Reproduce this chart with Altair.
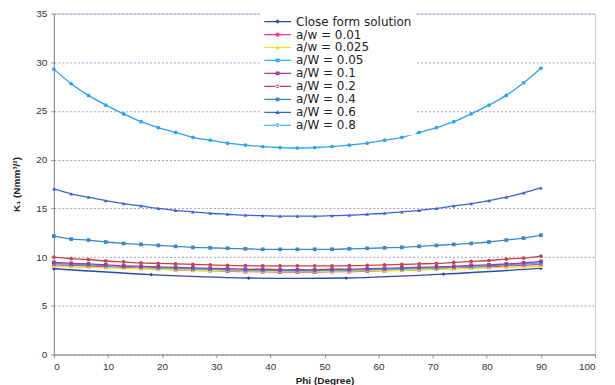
import altair as alt
import pandas as pd

series_names = ["Close form solution", "a/w = 0.01", "a/w = 0.025", "a/W = 0.05",
                "a/W = 0.1", "a/W = 0.2", "a/W = 0.4", "a/W = 0.6", "a/W = 0.8"]
colors = ["#2b4aa6", "#f2379c", "#ece21a", "#27b4e6", "#9c3f9c",
          "#c2454a", "#3d87c6", "#3562d6", "#2aa2f2"]
markers = ["diamond", "square", "triangle-up", "square", "square",
           "circle", "square", "triangle-up", "circle"]

phi_close = [0, 18, 36, 54, 72, 90]
k_close = [8.8, 8.2, 7.85, 7.85, 8.25, 8.85]

phi = [0, 3.2, 6.4, 9.6, 12.9, 16.1, 19.3, 22.5, 25.7, 28.9, 32.1, 35.4, 38.6, 41.8, 45,
       48.2, 51.4, 54.6, 57.9, 61.1, 64.3, 67.5, 70.7, 73.9, 77.1, 80.4, 83.6, 86.8, 90]

k_001 = [9.2, 9.15, 9.1, 9.0, 8.95, 8.85, 8.8, 8.7, 8.65, 8.6, 8.55, 8.5, 8.5, 8.45, 8.45,
         8.45, 8.5, 8.5, 8.55, 8.6, 8.65, 8.7, 8.8, 8.85, 8.95, 9.0, 9.1, 9.15, 9.25]
k_0025 = [9.05, 9.0, 8.95, 8.9, 8.85, 8.8, 8.75, 8.7, 8.65, 8.6, 8.6, 8.55, 8.55, 8.5, 8.5,
          8.5, 8.55, 8.55, 8.6, 8.6, 8.65, 8.7, 8.75, 8.8, 8.85, 8.9, 8.95, 9.0, 9.05]
k_005 = [9.35, 9.25, 9.2, 9.1, 9.05, 9.0, 8.9, 8.85, 8.8, 8.75, 8.7, 8.65, 8.65, 8.6, 8.6,
         8.6, 8.65, 8.65, 8.7, 8.75, 8.8, 8.85, 8.9, 9.0, 9.05, 9.1, 9.2, 9.3, 9.4]
k_01 = [9.45, 9.35, 9.3, 9.2, 9.1, 9.05, 9.0, 8.95, 8.9, 8.85, 8.8, 8.75, 8.75, 8.7, 8.7,
        8.7, 8.75, 8.75, 8.8, 8.85, 8.9, 8.95, 9.0, 9.05, 9.15, 9.2, 9.3, 9.4, 9.55]
k_02 = [10.0, 9.85, 9.75, 9.6, 9.5, 9.4, 9.35, 9.3, 9.25, 9.2, 9.15, 9.12, 9.1, 9.1, 9.1,
        9.1, 9.1, 9.12, 9.15, 9.2, 9.25, 9.3, 9.35, 9.45, 9.55, 9.65, 9.8, 9.9, 10.1]
k_04 = [12.15, 11.85, 11.75, 11.55, 11.4, 11.3, 11.2, 11.1, 11.0, 10.95, 10.9, 10.85, 10.8, 10.8, 10.8,
        10.8, 10.8, 10.85, 10.9, 10.95, 11.0, 11.1, 11.2, 11.3, 11.4, 11.55, 11.75, 11.95, 12.25]
k_06 = [17.0, 16.5, 16.15, 15.8, 15.5, 15.25, 15.0, 14.8, 14.65, 14.5, 14.4, 14.3, 14.25, 14.2, 14.2,
        14.2, 14.25, 14.3, 14.4, 14.5, 14.65, 14.8, 15.0, 15.25, 15.5, 15.8, 16.15, 16.6, 17.1]
k_08 = [29.3, 27.8, 26.6, 25.6, 24.7, 23.9, 23.3, 22.8, 22.3, 22.0, 21.7, 21.5, 21.35, 21.25, 21.2,
        21.25, 21.35, 21.5, 21.7, 22.0, 22.3, 22.8, 23.3, 23.9, 24.7, 25.6, 26.6, 27.9, 29.4]

x_ticks = [0, 10, 20, 30, 40, 50, 60, 70, 80, 90, 100]
y_ticks = [0, 5, 10, 15, 20, 25, 30, 35]

# legend symbol paths: a short line with the series marker in the middle
line_part = "M-1,-0.045H1V0.045H-1Z"
marker_paths = {
    "diamond": "M0,-0.17L0.17,0L0,0.17L-0.17,0Z",
    "square": "M-0.14,-0.14H0.14V0.14H-0.14Z",
    "triangle-up": "M0,-0.17L0.16,0.13L-0.16,0.13Z",
    "circle": "M-0.14,0A0.14,0.14 0 1,0 0.14,0A0.14,0.14 0 1,0 -0.14,0Z",
}
legend_shapes = [line_part + " " + marker_paths[m] for m in markers]

rows = []
for p, k in zip(phi_close, k_close):
    rows.append({"series": series_names[0], "phi": p, "K": k, "marker": markers[0]})
for i, vals in enumerate([k_001, k_0025, k_005, k_01, k_02, k_04, k_06, k_08], start=1):
    for p, k in zip(phi, vals):
        rows.append({"series": series_names[i], "phi": p, "K": k, "marker": markers[i]})
df = pd.DataFrame(rows)

color_scale = alt.Scale(domain=series_names, range=colors)

x_enc = alt.X("phi:Q", title="Phi (Degree)",
              scale=alt.Scale(domain=[0, 100], nice=False),
              axis=alt.Axis(values=x_ticks, grid=False))
y_enc = alt.Y("K:Q", title="K₁ (Nmm³/²)",
              scale=alt.Scale(domain=[0, 35], nice=False),
              axis=alt.Axis(values=y_ticks, grid=True, gridDash=[2, 2],
                            gridColor="#9c9cc4", gridWidth=1))

base = alt.Chart(df)

lines = base.mark_line(strokeWidth=1.3, interpolate="catmull-rom").encode(
    x=x_enc, y=y_enc,
    color=alt.Color("series:N", scale=color_scale, legend=None),
    detail="series:N",
)

points = base.mark_point(filled=True, size=14, opacity=1).encode(
    x="phi:Q", y="K:Q",
    color=alt.Color("series:N", scale=color_scale, legend=None),
    shape=alt.Shape("marker:N", scale=None, legend=None),
)

leg = dict(orient="none", legendX=207, legendY=-1, title=None,
           symbolSize=729, clipHeight=10, rowPadding=1, symbolOffset=0,
           labelOffset=5, labelFont="DejaVu Sans", labelFontSize=12,
           labelColor="#222222", padding=4,
           fillColor="white", symbolOpacity=1, symbolStrokeWidth=0,
           values=series_names)

legend_layer = base.mark_point(filled=True, opacity=0).encode(
    x="phi:Q", y="K:Q",
    color=alt.Color("series:N", scale=color_scale, legend=alt.Legend(**leg), sort=series_names),
    shape=alt.Shape("series:N", scale=alt.Scale(domain=series_names, range=legend_shapes),
                    legend=alt.Legend(**leg), sort=series_names),
)

chart = alt.layer(lines, points, legend_layer).resolve_legend(
    color="independent", shape="independent"
).properties(
    width=543, height=342,
    autosize=alt.AutoSizeParams(type="none"),
    padding={"left": 46, "top": 5, "right": 12, "bottom": 30},
).configure_view(
    stroke="#c8cad8", strokeWidth=1
).configure_axis(
    labelFont="Liberation Sans", labelFontSize=10, labelColor="#333333",
    titleFont="Liberation Sans", titleFontSize=10, titleFontWeight="bold",
    titleColor="#222222", domainColor="#8a8a8a", tickColor="#8a8a8a",
    tickSize=3, labelPadding=4,
).configure_axisX(titlePadding=4).configure_axisY(titlePadding=14)

chart.save("out.html", embed_options={"renderer": "svg", "actions": False})
